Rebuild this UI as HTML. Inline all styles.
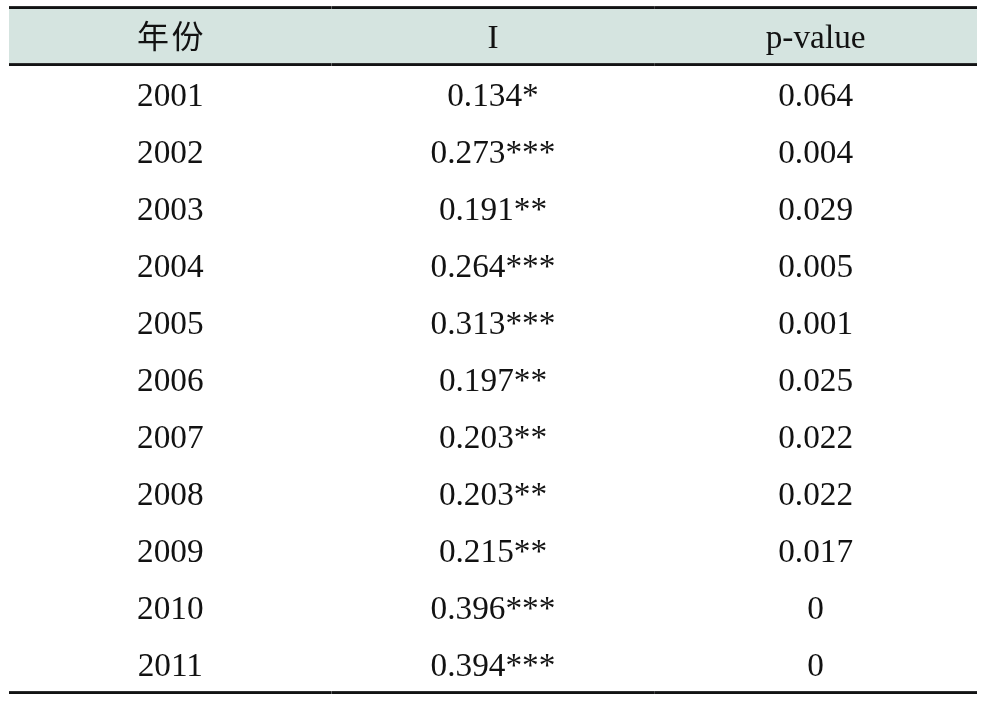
<!DOCTYPE html>
<html lang="zh"><head><meta charset="utf-8"><title>Table</title>
<style>
html,body{margin:0;padding:0;background:#fff;}
body{width:984px;height:702px;overflow:hidden;position:relative;font-family:"Liberation Serif","Noto Sans CJK SC",serif;color:#121212;font-size:33.3px;}
.tbl{position:absolute;left:9px;top:0;width:968px;height:702px;}
.hd{position:absolute;left:0;top:9px;width:100%;height:54px;background:#d5e4e0;}
.rule{position:absolute;left:0;width:100%;height:3px;background:linear-gradient(to bottom,#2e2f30 0,#2e2f30 1px,#131415 1px,#101112 3px);}
.rule i{position:absolute;top:0;width:1px;height:3px;background:rgba(255,255,255,.32);}
.rule i.a{left:322px;}
.rule i.b{left:645px;background:rgba(255,255,255,.18);}
.row{position:absolute;left:0;width:100%;height:57px;display:flex;}
.hd .row{top:1px;height:54px;}
.c{flex:0 0 33.3333%;text-align:center;white-space:nowrap;line-height:57px;}
.hd .c{line-height:54px;}
.cjk{font-family:"Noto Sans CJK SC",sans-serif;font-size:32px;letter-spacing:2.5px;margin-right:-2.5px;font-weight:400;position:relative;top:-3px;}
</style></head><body>
<div class="tbl">
<div class="rule" style="top:6px"><i class="a"></i><i class="b"></i></div>
<div class="hd"><div class="row"><div class="c"><span class="cjk">年份</span></div><div class="c">I</div><div class="c">p-value</div></div></div>
<div class="rule" style="top:63px"><i class="a"></i><i class="b"></i></div>
<div class="row" style="top:66px"><div class="c">2001</div><div class="c">0.134*</div><div class="c">0.064</div></div>
<div class="row" style="top:123px"><div class="c">2002</div><div class="c">0.273***</div><div class="c">0.004</div></div>
<div class="row" style="top:180px"><div class="c">2003</div><div class="c">0.191**</div><div class="c">0.029</div></div>
<div class="row" style="top:237px"><div class="c">2004</div><div class="c">0.264***</div><div class="c">0.005</div></div>
<div class="row" style="top:294px"><div class="c">2005</div><div class="c">0.313***</div><div class="c">0.001</div></div>
<div class="row" style="top:351px"><div class="c">2006</div><div class="c">0.197**</div><div class="c">0.025</div></div>
<div class="row" style="top:408px"><div class="c">2007</div><div class="c">0.203**</div><div class="c">0.022</div></div>
<div class="row" style="top:465px"><div class="c">2008</div><div class="c">0.203**</div><div class="c">0.022</div></div>
<div class="row" style="top:522px"><div class="c">2009</div><div class="c">0.215**</div><div class="c">0.017</div></div>
<div class="row" style="top:579px"><div class="c">2010</div><div class="c">0.396***</div><div class="c">0</div></div>
<div class="row" style="top:636px"><div class="c">2011</div><div class="c">0.394***</div><div class="c">0</div></div>
<div class="rule" style="top:691px"><i class="a"></i><i class="b"></i></div>
</div>
</body></html>
